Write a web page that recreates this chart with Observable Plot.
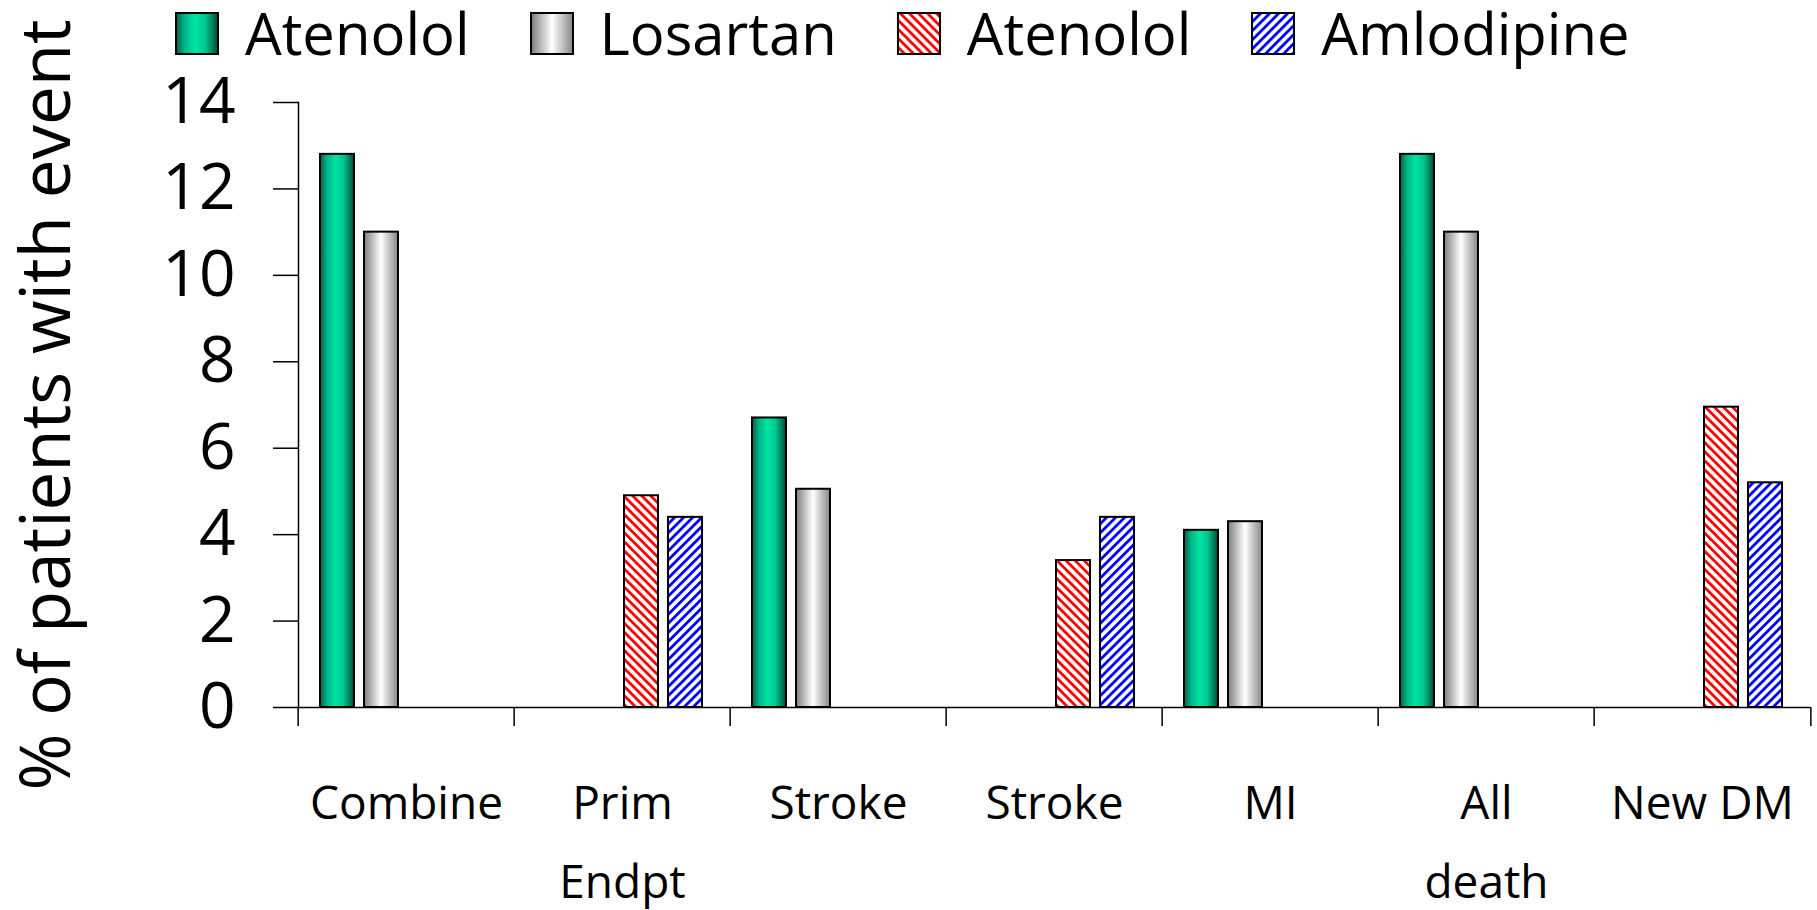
<!DOCTYPE html>
<html>
<head>
<meta charset="utf-8">
<script src="https://cdn.jsdelivr.net/npm/d3@7"></script>
<script src="https://cdn.jsdelivr.net/npm/@observablehq/plot@0.6"></script>
<style>
  html, body { margin: 0; padding: 0; background: #fff; }
  body { width: 1817px; height: 910px; overflow: hidden; font-family: "Open Sans", sans-serif; color: #000; }
  #defs { position: absolute; width: 0; height: 0; }
  #legend { height: 66px; display: flex; align-items: center; padding-left: 175px; box-sizing: border-box; }
  .item { display: flex; align-items: center; margin-right: 60px; }
  .item svg { width: 44px; height: 43px; margin-right: 26px; flex: none; }
  .item span { display: inline-block; height: 66px; font-size: 58px; line-height: 66px; white-space: nowrap; }
  #chart svg g[aria-label="y-axis tick label"] { font-size: 64px; }
  #chart svg g[aria-label="y-axis label"] { font-size: 69px; }
  #chart svg g[aria-label="fx-axis tick label"] { font-size: 46px; }
</style>
</head>
<body>
<svg id="defs" aria-hidden="true">
  <defs>
    <linearGradient id="fill-green" x1="0" y1="0" x2="1" y2="0">
      <stop offset="0" stop-color="#005c43"/>
      <stop offset="0.2" stop-color="#00b488"/>
      <stop offset="0.45" stop-color="#00e5a4"/>
      <stop offset="0.7" stop-color="#00c590"/>
      <stop offset="1" stop-color="#004a35"/>
    </linearGradient>
    <linearGradient id="fill-gray" x1="0" y1="0" x2="1" y2="0">
      <stop offset="0" stop-color="#7c7c7c"/>
      <stop offset="0.5" stop-color="#ffffff"/>
      <stop offset="1" stop-color="#858585"/>
    </linearGradient>
    <pattern id="fill-red" patternUnits="userSpaceOnUse" width="6.4" height="6.4" patternTransform="rotate(-45)">
      <rect width="6.4" height="6.4" fill="#ffffff"/>
      <rect width="2.8" height="6.4" fill="#ff0000"/>
    </pattern>
    <pattern id="fill-blue" patternUnits="userSpaceOnUse" width="6.4" height="6.4" patternTransform="rotate(45)">
      <rect width="6.4" height="6.4" fill="#ffffff"/>
      <rect width="2.8" height="6.4" fill="#0000ff"/>
    </pattern>
  </defs>
</svg>
<div id="legend"></div>
<div id="chart"></div>
<script>
// Outcome groups along the x axis (keys are unique; labels are what is shown)
const categoryKeys = ["combined", "primary", "stroke-1", "stroke-2", "mi", "death", "new-dm"];
const categoryLabels = ["Combine", "Prim\nEndpt", "Stroke", "Stroke", "MI", "All\ndeath", "New DM"];

// Treatment arms
const seriesKeys = ["atenolol-1", "losartan", "atenolol-2", "amlodipine"];
const seriesLabels = ["Atenolol", "Losartan", "Atenolol", "Amlodipine"];
const seriesFills = ["url(#fill-green)", "url(#fill-gray)", "url(#fill-red)", "url(#fill-blue)"];

// % of patients with event, per arm and outcome (null = not reported)
const atenolol1 = [12.8, null, 6.7, null, 4.1, 12.8, null];
const losartan = [11.0, null, 5.05, null, 4.3, 11.0, null];
const atenolol2 = [null, 4.9, null, 3.4, null, null, 6.95];
const amlodipine = [null, 4.4, null, 4.4, null, null, 5.2];

const yTicks = [0, 2, 4, 6, 8, 10, 12, 14];
const yTitle = "% of patients with event";

const seriesValues = [atenolol1, losartan, atenolol2, amlodipine];
const rows = [];
seriesKeys.forEach((s, i) => {
  seriesValues[i].forEach((v, j) => {
    if (v != null) rows.push({category: categoryKeys[j], series: s, value: v});
  });
});

// Legend row above the chart
const legend = document.getElementById("legend");
seriesKeys.forEach((s, i) => {
  const item = document.createElement("div");
  item.className = "item";
  item.innerHTML =
    `<svg viewBox="0 0 44 43"><rect x="1" y="1" width="42" height="41" fill="${seriesFills[i]}" stroke="#000" stroke-width="2"/></svg>` +
    `<span>${seriesLabels[i]}</span>`;
  legend.appendChild(item);
});

const width = 1817, height = 844;
const marginLeft = 295, marginRight = 5, marginTop = 36, marginBottom = 203;
const band = (width - marginLeft - marginRight) / categoryKeys.length;

const chart = Plot.plot({
  width, height, marginLeft, marginRight, marginTop, marginBottom,
  style: {fontFamily: "Open Sans", color: "#000", background: "#fff", overflow: "visible"},
  fx: {domain: categoryKeys, padding: 0, label: null},
  x: {domain: seriesKeys, paddingInner: 0.234, paddingOuter: 0.557, align: 0.44, axis: null},
  y: {domain: [0, 14], label: null},
  color: {domain: seriesKeys, range: seriesFills},
  marks: [
    Plot.barY(rows, {fx: "category", x: "series", y: "value", fill: "series", stroke: "#000", strokeWidth: 2}),
    Plot.ruleY([0], {strokeWidth: 1.5}),
    Plot.frame({anchor: "left", facetAnchor: "left", strokeWidth: 1.5}),
    Plot.axisY({
      ticks: yTicks, tickSize: 25, tickPadding: 38, strokeWidth: 1.5, fontSize: 64,
      label: yTitle, labelAnchor: "center", labelArrow: "none", labelOffset: 278
    }),
    // category boundary ticks below the baseline
    Plot.axisFx({anchor: "bottom", tickSize: 19, tickFormat: () => "", dx: -band / 2, strokeWidth: 1.5, label: null}),
    Plot.axisFx({anchor: "bottom", ticks: [categoryKeys[categoryKeys.length - 1]], tickSize: 19, tickFormat: () => "", dx: band / 2, strokeWidth: 1.5, label: null}),
    // category names
    Plot.axisFx({
      anchor: "bottom", tickSize: 0, tickPadding: 55, fontSize: 46, lineHeight: 1.72, label: null,
      tickFormat: (k) => categoryLabels[categoryKeys.indexOf(k)]
    })
  ]
});
document.getElementById("chart").appendChild(chart);
</script>
</body>
</html>
